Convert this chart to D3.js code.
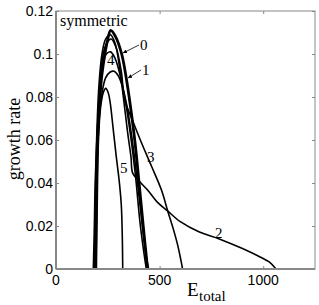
<!DOCTYPE html>
<html lang="en">
<head>
    <meta charset="UTF-8">
    <title>growth rate vs E_total</title>
    <style>
        body {
            margin: 0;
            padding: 0;
            background: #fff;
        }
        svg {
            display: block;
        }
        .tick-label {
            font-family: 'Liberation Sans', Arial, sans-serif;
            font-size: 14px;
            fill: #000;
        }
        .serif {
            font-family: 'Liberation Serif', 'Times New Roman', serif;
            fill: #000;
        }
    </style>
</head>
<body>

<svg id="chart" width="319" height="305"></svg>

<script src="https://d3js.org/d3.v7.min.js"></script>
<script>
    // Curve data (E_total, growth rate)
    const e0 = [183, 188, 192, 200, 212, 221, 236, 248, 264, 288, 317, 337, 353, 380, 401, 421, 442];
    const r0 = [0, 0.02, 0.04, 0.06, 0.08, 0.09, 0.1, 0.106, 0.111, 0.108, 0.1, 0.09, 0.08, 0.06, 0.04, 0.02, 0];

    const e1 = [193, 197, 203, 212, 224, 240, 260, 280, 300, 320, 342, 365, 390, 412, 432, 447];
    const r1 = [0, 0.03, 0.06, 0.074, 0.083, 0.089, 0.0915, 0.092, 0.09, 0.085, 0.076, 0.062, 0.043, 0.024, 0.008, 0];

    const e2 = [187, 190, 196, 207, 222, 240, 262, 285, 305, 325, 345, 362, 370, 400, 442, 490, 539, 600, 692, 788, 900, 995, 1029, 1062];
    const r2 = [0, 0.03, 0.06, 0.085, 0.1, 0.107, 0.109, 0.105, 0.095, 0.08, 0.064, 0.052, 0.0446, 0.041, 0.0367, 0.031, 0.027, 0.022, 0.0172, 0.014, 0.0095, 0.0051, 0.0033, 0];

    const e3 = [190, 194, 200, 212, 228, 245, 266, 290, 315, 332, 372, 413, 460, 509, 539, 565, 587, 603, 611];
    const r3 = [0, 0.03, 0.06, 0.085, 0.1, 0.105, 0.107, 0.103, 0.092, 0.0786, 0.0685, 0.0586, 0.048, 0.0367, 0.027, 0.019, 0.0112, 0.004, 0];

    const e4 = [189, 193, 199, 210, 225, 243, 263, 285, 310, 335, 360, 385, 405, 425, 436];
    const r4 = [0, 0.03, 0.06, 0.083, 0.095, 0.1, 0.101, 0.098, 0.09, 0.078, 0.062, 0.042, 0.022, 0.007, 0];

    const e5 = [195, 199, 205, 215, 228, 240, 252, 262, 275, 290, 305, 315, 320, 322];
    const r5 = [0, 0.03, 0.06, 0.075, 0.082, 0.084, 0.082, 0.077, 0.066, 0.053, 0.041, 0.03, 0.015, 0];

    const xTicks = [0, 500, 1000];
    const yTicks = [0, 0.02, 0.04, 0.06, 0.08, 0.1, 0.12];
    const yTickLabels = ["0", "0.02", "0.04", "0.06", "0.08", "0.1", "0.12"];

    const svg = d3.select("#chart");

    const mLeft = 56, mRight = 315, mTop = 11, mBottom = 269;
    const x = d3.scaleLinear().domain([0, 1250]).range([mLeft, mRight]);
    const y = d3.scaleLinear().domain([0, 0.12]).range([mBottom, mTop]);

    const curves = [
        { e: e0, r: r0, w: 2.8 },
        { e: e1, r: r1, w: 1.6 },
        { e: e2, r: r2, w: 1.6 },
        { e: e3, r: r3, w: 1.6 },
        { e: e4, r: r4, w: 1.6 },
        { e: e5, r: r5, w: 1.6 }
    ];

    const line = d3.line()
        .x(d => x(d[0]))
        .y(d => y(d[1]))
        .curve(d3.curveCatmullRom.alpha(0.5));

    svg.append("g")
        .selectAll("path")
        .data(curves)
        .join("path")
        .attr("d", c => line(c.e.map((v, i) => [v, c.r[i]])))
        .attr("fill", "none")
        .attr("stroke", "#000")
        .attr("stroke-width", c => c.w)
        .attr("stroke-linejoin", "round");

    // box frame
    svg.append("rect")
        .attr("x", mLeft)
        .attr("y", mTop)
        .attr("width", mRight - mLeft)
        .attr("height", mBottom - mTop)
        .attr("fill", "none")
        .attr("stroke", "#888")
        .attr("stroke-width", 1);

    // bottom and left axes a bit heavier
    svg.append("line")
        .attr("x1", mLeft).attr("x2", mRight)
        .attr("y1", mBottom).attr("y2", mBottom)
        .attr("stroke", "#888").attr("stroke-width", 2);
    svg.append("line")
        .attr("x1", mLeft).attr("x2", mLeft)
        .attr("y1", mTop).attr("y2", mBottom)
        .attr("stroke", "#888").attr("stroke-width", 2);

    // inward ticks
    const xAxisB = d3.axisBottom(x).tickValues(xTicks).tickSize(-3).tickFormat("");
    const xAxisT = d3.axisTop(x).tickValues(xTicks).tickSize(-3).tickFormat("");
    const yAxisL = d3.axisLeft(y).tickValues(yTicks).tickSize(-3).tickFormat("");
    const yAxisR = d3.axisRight(y).tickValues(yTicks).tickSize(-3).tickFormat("");

    [[xAxisB, `translate(0,${mBottom})`], [xAxisT, `translate(0,${mTop})`],
     [yAxisL, `translate(${mLeft},0)`], [yAxisR, `translate(${mRight},0)`]].forEach(([ax, tr]) => {
        const g = svg.append("g").attr("transform", tr).call(ax);
        g.select(".domain").remove();
        g.selectAll(".tick line").attr("stroke", "#888");
    });

    // tick labels
    svg.append("g")
        .selectAll("text")
        .data(xTicks)
        .join("text")
        .attr("class", "tick-label")
        .attr("x", d => x(d))
        .attr("y", 285)
        .attr("text-anchor", "middle")
        .text(d => d);

    svg.append("g")
        .selectAll("text")
        .data(yTicks)
        .join("text")
        .attr("class", "tick-label")
        .attr("x", 53)
        .attr("y", d => y(d) + 5)
        .attr("text-anchor", "end")
        .text((d, i) => yTickLabels[i]);

    // axis labels
    svg.append("text")
        .attr("class", "serif")
        .attr("font-size", 18)
        .attr("text-anchor", "middle")
        .attr("transform", "translate(20,139) rotate(-90)")
        .text("growth rate");

    svg.append("text")
        .attr("class", "serif")
        .attr("x", 187)
        .attr("y", 296)
        .attr("font-size", 19)
        .text("E");
    svg.append("text")
        .attr("class", "serif")
        .attr("x", 199)
        .attr("y", 301)
        .attr("font-size", 15)
        .text("total");

    svg.append("text")
        .attr("class", "serif")
        .attr("x", 60)
        .attr("y", 26)
        .attr("font-size", 16)
        .text("symmetric");

    // curve labels
    const labels = [
        { t: "0", x: 140, y: 50 },
        { t: "1", x: 142, y: 75 },
        { t: "2", x: 215, y: 238 },
        { t: "3", x: 147, y: 162 },
        { t: "4", x: 107, y: 65 },
        { t: "5", x: 120, y: 173 }
    ];
    svg.append("g")
        .selectAll("text")
        .data(labels)
        .join("text")
        .attr("class", "serif")
        .attr("font-size", 15)
        .attr("x", d => d.x)
        .attr("y", d => d.y)
        .text(d => d.t);

    // arrows from labels 0 and 1
    svg.append("defs").append("marker")
        .attr("id", "arrow")
        .attr("viewBox", "0 0 10 10")
        .attr("refX", 10).attr("refY", 5)
        .attr("markerWidth", 5).attr("markerHeight", 5)
        .attr("orient", "auto")
        .append("path")
        .attr("d", "M0,0 L10,5 L0,10 z")
        .attr("fill", "#000");

    const arrows = [
        { x1: 139, y1: 45, x2: 123, y2: 53 },
        { x1: 141, y1: 70, x2: 128, y2: 78 }
    ];
    svg.append("g")
        .selectAll("line")
        .data(arrows)
        .join("line")
        .attr("x1", d => d.x1).attr("y1", d => d.y1)
        .attr("x2", d => d.x2).attr("y2", d => d.y2)
        .attr("stroke", "#000")
        .attr("stroke-width", 0.8)
        .attr("marker-end", "url(#arrow)");
</script>

</body>
</html>
